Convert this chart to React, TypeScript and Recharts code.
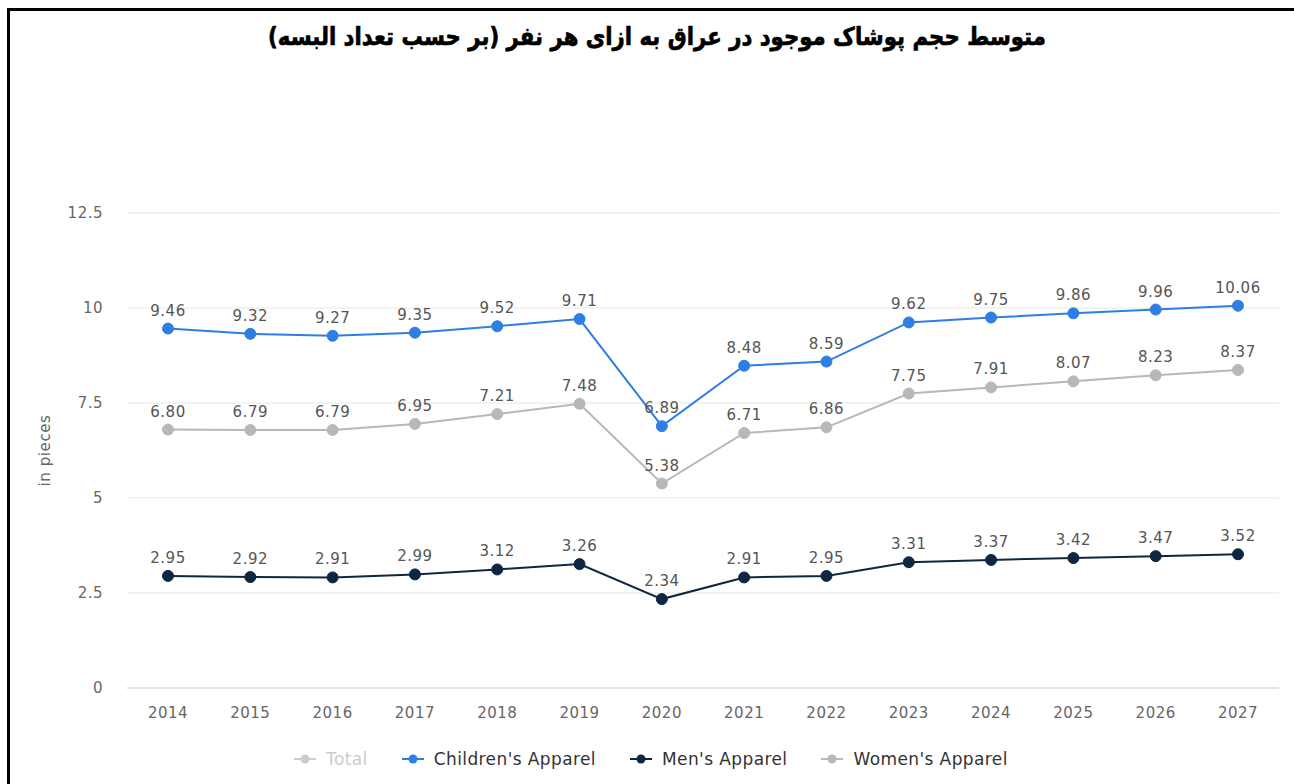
import { LineChart, Line, XAxis, YAxis, CartesianGrid, LabelList } from 'recharts'

const years = ['2014', '2015', '2016', '2017', '2018', '2019', '2020', '2021', '2022', '2023', '2024', '2025', '2026', '2027']
const childrens = [9.46, 9.32, 9.27, 9.35, 9.52, 9.71, 6.89, 8.48, 8.59, 9.62, 9.75, 9.86, 9.96, 10.06]
const womens = [6.8, 6.79, 6.79, 6.95, 7.21, 7.48, 5.38, 6.71, 6.86, 7.75, 7.91, 8.07, 8.23, 8.37]
const mens = [2.95, 2.92, 2.91, 2.99, 3.12, 3.26, 2.34, 2.91, 2.95, 3.31, 3.37, 3.42, 3.47, 3.52]
const yTicks = [0, 2.5, 5, 7.5, 10, 12.5]

const legendItems = [
  { name: 'Total', color: '#cccccc', text: '#cccccc' },
  { name: "Children's Apparel", color: '#2f7ee3', text: '#333333' },
  { name: "Men's Apparel", color: '#0e2640', text: '#333333' },
  { name: "Women's Apparel", color: '#b8b8b8', text: '#333333' },
]

const data = years.map((year, i) => ({
  year,
  childrens: childrens[i],
  womens: womens[i],
  mens: mens[i],
}))

const font = '"DejaVu Sans", sans-serif'
const fmt = (v: any) => Number(v).toFixed(2)

const tickStyle = { fill: '#666', fontSize: 15, fontFamily: font, letterSpacing: 0.5 }

export default function App() {
  const lines = [
    { key: 'childrens', color: '#2f7ee3' },
    { key: 'womens', color: '#b8b8b8' },
    { key: 'mens', color: '#0e2640' },
  ]
  return (
    <div style={{ position: 'absolute', left: 0, top: 0, width: 1294, height: 784, overflow: 'hidden', background: '#fff', fontFamily: font }}>
      <div style={{ position: 'absolute', left: 7, top: 8, width: 1300, height: 800, borderTop: '3px solid #000', borderLeft: '3px solid #000' }} />
      <div
        dir="rtl"
        style={{
          position: 'absolute',
          left: 0,
          top: 22,
          width: 1314,
          textAlign: 'center',
          fontSize: 25,
          fontWeight: 'bold',
          color: '#000',
          fontFamily: font,
          transform: 'scaleX(0.85)',
          WebkitTextStroke: '0.7px #000',
        }}
      >
        متوسط حجم پوشاک موجود در عراق به ازای هر نفر (بر حسب تعداد البسه)
      </div>
      <div style={{ position: 'absolute', left: 0, top: 0 }}>
        <LineChart width={1294} height={784} data={data} margin={{ top: 213, right: 15, bottom: 66, left: 67 }}>
          <CartesianGrid vertical={false} stroke="#e6e6e6" />
          <XAxis
            dataKey="year"
            padding={{ left: 41, right: 41 }}
            axisLine={{ stroke: '#ccd6eb' }}
            tickLine={false}
            tickMargin={13}
            height={30}
            tick={tickStyle}
          />
          <YAxis
            domain={[0, 12.5]}
            ticks={yTicks}
            axisLine={false}
            tickLine={false}
            tickMargin={18}
            width={60}
            tick={tickStyle}
            label={{ value: 'in pieces', angle: -90, position: 'insideLeft', offset: -22, style: { fill: '#666', fontSize: 15, fontFamily: font, letterSpacing: 0.6, textAnchor: 'middle' } }}
          />
          {lines.map((l) => (
            <Line
              key={l.key}
              type="linear"
              dataKey={l.key}
              stroke={l.color}
              strokeWidth={2}
              dot={{ r: 5.5, fill: l.color, stroke: l.color, strokeWidth: 1 }}
              activeDot={false}
              isAnimationActive={false}
            >
              <LabelList dataKey={l.key} position="top" offset={13} formatter={fmt} style={{ fill: '#555', fontSize: 15, fontFamily: font, letterSpacing: 0.5 }} />
            </Line>
          ))}
        </LineChart>
      </div>
      <div style={{ position: 'absolute', left: 294, top: 749, display: 'flex', alignItems: 'center', fontSize: 17, fontFamily: font, whiteSpace: 'nowrap', letterSpacing: 0.4 }}>
        {legendItems.map((item) => (
          <div key={item.name} style={{ display: 'flex', alignItems: 'center', marginRight: 34 }}>
            <svg width={22} height={12} style={{ marginRight: 10 }}>
              <line x1={0} y1={6} x2={22} y2={6} stroke={item.color} strokeWidth={2} />
              <circle cx={11} cy={6} r={4.5} fill={item.color} />
            </svg>
            <span style={{ color: item.text }}>{item.name}</span>
          </div>
        ))}
      </div>
    </div>
  )
}
